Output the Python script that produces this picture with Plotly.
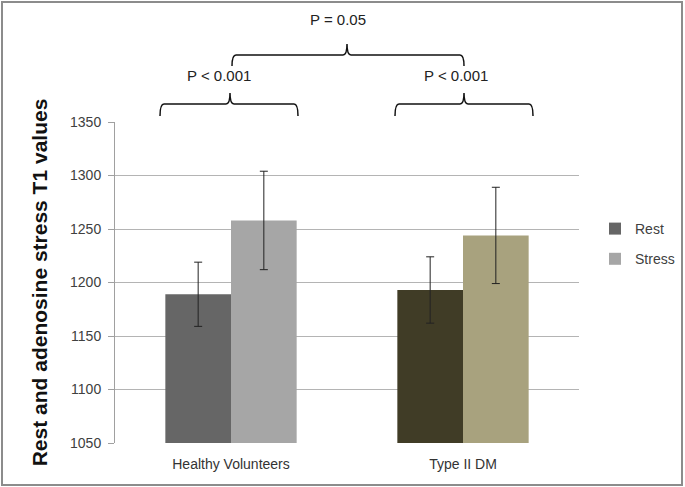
import plotly.graph_objects as go

categories = ["Healthy Volunteers", "Type II DM"]
rest_values = [1189, 1193]
rest_errors = [30, 31]
stress_values = [1258, 1244]
stress_errors = [46, 45]
y_ticks = [1050, 1100, 1150, 1200, 1250, 1300, 1350]

rest_colors = ["#666666", "#403c26"]
stress_colors = ["#a6a6a6", "#a8a27e"]

W, H = 685, 487
ML, MR, MT, MB = 115, 106, 122, 44
PW, PH = W - ML - MR, H - MT - MB

def px(x):
    return (x - ML) / PW

def py(y):
    return (H - MB - y) / PH

fig = go.Figure()
fig.add_trace(go.Bar(
    name="Rest", x=categories, y=rest_values, legendgroup="rest",
    marker=dict(color=rest_colors, line=dict(width=0)),
    error_y=dict(type="data", array=rest_errors, color="#222222", thickness=1, width=4),
))
fig.add_trace(go.Bar(
    name="Stress", x=categories, y=stress_values, legendgroup="stress",
    marker=dict(color=stress_colors, line=dict(width=0)),
    error_y=dict(type="data", array=stress_errors, color="#222222", thickness=1, width=4),
))

def brace(x0, x1, xc, y_line, y_end, y_tip, r=4):
    return (f"M {px(x0)},{py(y_end)} Q {px(x0)},{py(y_line)} {px(x0+r)},{py(y_line)} "
            f"L {px(xc-r)},{py(y_line)} Q {px(xc)},{py(y_line)} {px(xc)},{py(y_tip)} "
            f"Q {px(xc)},{py(y_line)} {px(xc+r)},{py(y_line)} "
            f"L {px(x1-r)},{py(y_line)} Q {px(x1)},{py(y_line)} {px(x1)},{py(y_end)}")

shapes = [
    dict(type="path", xref="paper", yref="paper", path=brace(160, 298, 230, 104, 116, 93),
         line=dict(color="#111111", width=1.5)),
    dict(type="path", xref="paper", yref="paper", path=brace(395, 533, 464, 104, 116, 93),
         line=dict(color="#111111", width=1.5)),
    dict(type="path", xref="paper", yref="paper", path=brace(232, 464, 347, 55, 66, 44),
         line=dict(color="#111111", width=1.5)),
    dict(type="rect", xref="paper", yref="paper", x0=px(2), x1=px(682), y0=py(485), y1=py(2),
         line=dict(color="#8c8c8c", width=2)),
]

ann_font = dict(size=15, color="#222222")
annotations = [
    dict(text="P < 0.001", x=px(219), y=py(75), xref="paper", yref="paper", showarrow=False,
         xanchor="center", yanchor="middle", font=ann_font),
    dict(text="P < 0.001", x=px(456), y=py(75), xref="paper", yref="paper", showarrow=False,
         xanchor="center", yanchor="middle", font=ann_font),
    dict(text="P = 0.05", x=px(338), y=py(20), xref="paper", yref="paper", showarrow=False,
         xanchor="center", yanchor="middle", font=ann_font),
]

fig.update_layout(
    width=W, height=H,
    margin=dict(l=ML, r=MR, t=MT, b=MB, autoexpand=False),
    paper_bgcolor="white", plot_bgcolor="white",
    font=dict(family="Liberation Sans, Arial, sans-serif", color="#404040"),
    barmode="group", bargap=0.434, bargroupgap=0,
    showlegend=True,
    legend=dict(x=px(595), y=py(213), xanchor="left", yanchor="top",
                font=dict(size=14, color="#404040"), itemwidth=30,
                tracegroupgap=9, bgcolor="rgba(0,0,0,0)"),
    shapes=shapes, annotations=annotations,
)
fig.update_yaxes(
    range=[1050, 1350], tickvals=y_ticks, showgrid=True, gridcolor="#b4b4b4", gridwidth=1,
    showline=True, linecolor="#a0a0a0", linewidth=1, ticks="outside", ticklen=6,
    tickcolor="#a0a0a0", tickfont=dict(size=14, color="#404040"), zeroline=False,
    ticklabelstandoff=4,
    title=dict(text="<b>Rest and adenosine stress T1 values</b>", standoff=16,
               font=dict(size=21, color="#111111")),
)
fig.update_xaxes(
    showline=False, ticks="", tickfont=dict(size=14, color="#333333"), ticklabelstandoff=11,
)

fig.write_html("out.html", config={"displayModeBar": False},
               post_script="document.body.style.margin='0';document.body.style.overflow='hidden';")
